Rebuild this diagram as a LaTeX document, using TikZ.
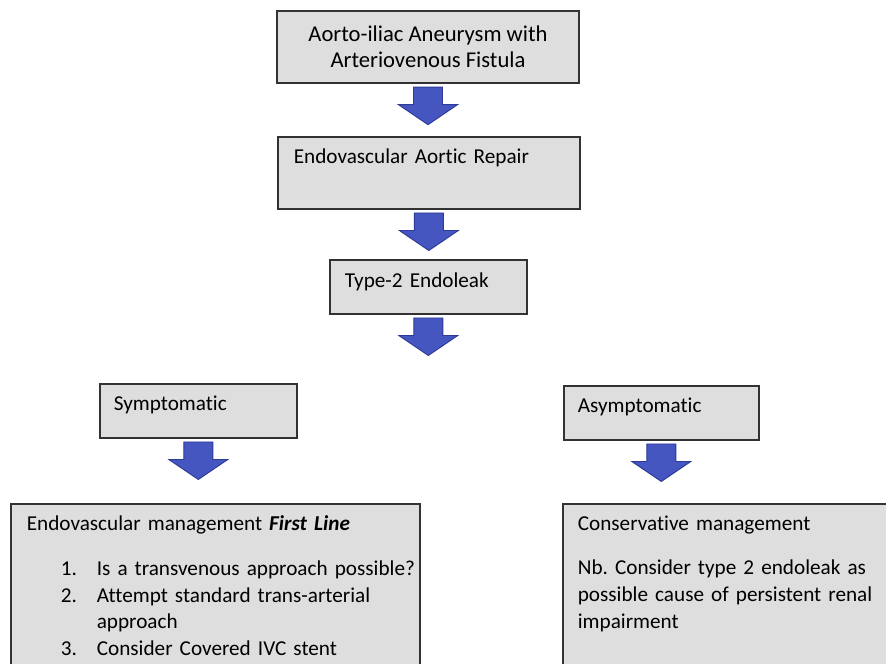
\documentclass[tikz,border=0pt]{standalone}
\usepackage{fontspec}
\setmainfont{Carlito}[Ligatures=NoCommon]
\frenchspacing
\usetikzlibrary{positioning}
\definecolor{boxgray}{RGB}{222,222,222}
\definecolor{boxline}{RGB}{50,50,50}
\definecolor{arrowblue}{RGB}{70,86,192}
\definecolor{arrowedge}{RGB}{45,58,150}
\begin{document}
\begin{tikzpicture}[
  box/.style={draw=boxline, fill=boxgray, line width=1.4pt, rectangle, inner ysep=0pt, align=left, font=\fontsize{18.1}{23}\selectfont},
  downarr/.pic={\filldraw[fill=arrowblue, draw=arrowedge, line width=0.8pt] (-0.435,0) -- (0.435,0) -- (0.435,-0.525) -- (0.885,-0.525) -- (0,-1.125) -- (-0.885,-0.525) -- (-0.435,-0.525) -- cycle;}
]
\useasboundingbox (0,0) rectangle (26.58,-19.92);
\clip (0,0) rectangle (26.58,-19.92);
\node[box, align=center, minimum width=9.06cm, minimum height=2.16cm, font=\fontsize{19.3}{22.5}\selectfont] (aneurysm) at (12.84,-1.41) {Aorto-iliac Aneurysm with\\Arteriovenous Fistula};
\node[box, anchor=north west, text width=8.1cm, inner xsep=0.48cm, text height=0.81cm, text depth=1.35cm] (evar) at (8.31,-4.08) {Endovascular Aortic Repair};
\node[box, anchor=north west, text width=5.01cm, inner xsep=0.45cm, text height=0.84cm, text depth=0.78cm] (endoleak) at (9.87,-7.77) {Type-2 Endoleak};
\node[box, anchor=north west, text width=5.07cm, inner xsep=0.42cm, text height=0.81cm, text depth=0.81cm] (sympt) at (2.97,-11.49) {Symptomatic};
\node[box, anchor=north west, text width=5.01cm, inner xsep=0.42cm, text height=0.81cm, text depth=0.81cm] (asympt) at (16.89,-11.55) {Asymptomatic};
\node[box, anchor=north west, text width=11.31cm, inner xsep=0.48cm, text height=0.81cm, text depth=4.8cm] (endomgmt) at (0.30,-15.09) {\mbox{Endovascular management \textbf{\textit{First Line}}}\\[0.52cm]
\mbox{\hspace*{1.02cm}\makebox[1.08cm][l]{1.}Is a transvenous approach possible?}\\
\mbox{\hspace*{1.02cm}\makebox[1.08cm][l]{2.}Attempt standard trans-arterial}\\
\mbox{\hspace*{2.1cm}approach}\\
\mbox{\hspace*{1.02cm}\makebox[1.08cm][l]{3.}Consider Covered IVC stent}};
\node[box, anchor=north west, text width=10cm, inner xsep=0.45cm, text height=0.81cm, text depth=4.8cm] (consmgmt) at (16.86,-15.09) {Conservative management\\[0.5cm]
Nb. Consider type 2 endoleak as\\
possible cause of persistent renal\\
impairment};
\pic at ([yshift=-0.1cm]aneurysm.south) {downarr};
\pic at ([yshift=-0.1cm]evar.south) {downarr};
\pic at ([yshift=-0.1cm]endoleak.south) {downarr};
\pic at ([yshift=-0.1cm]sympt.south) {downarr};
\pic at ([yshift=-0.1cm]asympt.south) {downarr};
\end{tikzpicture}
\end{document}
